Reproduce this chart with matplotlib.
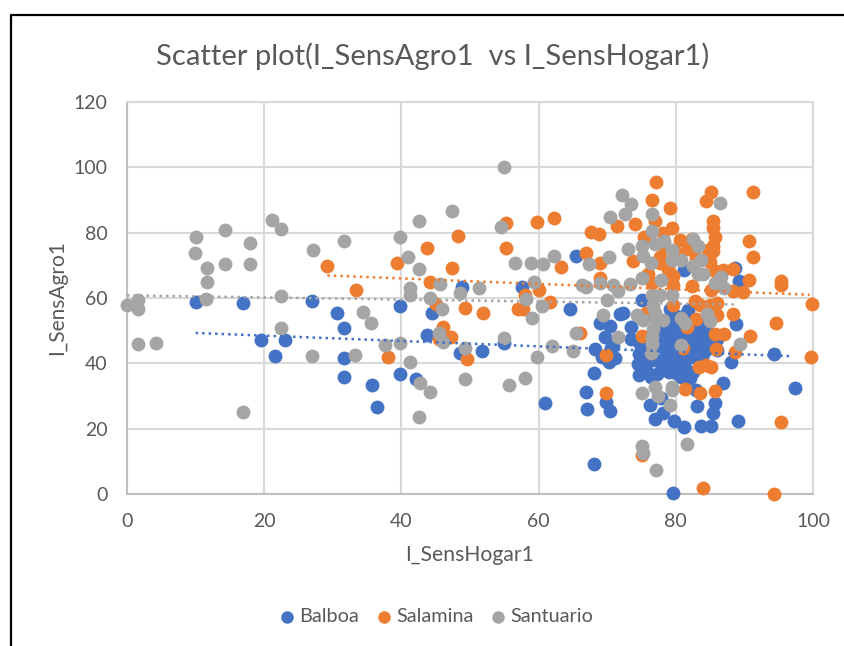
import matplotlib
matplotlib.use("Agg")
import matplotlib.pyplot as plt
from matplotlib.lines import Line2D

plt.rcParams["font.family"] = ["Lato", "DejaVu Sans"]

# points
balboa_x = [10, 16.9, 26.9, 30.6, 31.7, 39.8, 44.4, 48.8, 19.5, 23, 43.7, 21.6, 31.7, 31.7, 35.7, 36.4, 39.8, 42.1,
            48.5, 51.7, 65.5, 57.6, 88.6, 89.2, 81.2, 64.6, 75.1, 71.8, 72.3, 68.9, 70.4, 81.8, 79.1, 88.8, 73.5,
            69.7, 73.5, 83.5, 55, 68.2, 70.9, 69.2, 70.2, 71.2, 70.5, 74.7, 74.5, 75.4, 74.7, 76.4, 68.1, 66.9,
            60.9, 67, 69.8, 70.4, 68.1, 79.6, 97.4, 94.3, 88, 86.9, 85.7, 85.4, 83.1, 83, 89, 85.2, 83.7, 81.2,
            79.7, 78.1, 76.9, 76.2, 77.8, 80.8, 81.3, 82.5,
            77, 78, 79, 80, 81, 82, 83, 84, 85, 77.5, 78.5, 79.5, 80.5, 81.5, 82.5, 83.5, 84.5, 78, 79, 80, 81, 82,
            83, 84, 78.5, 79.5, 80.5, 81.5, 82.5, 83.5, 77, 78.2, 79.3, 80.3, 81.2, 79, 80, 81, 78, 84.7, 86, 76.2,
            75.6, 77.2,
            74.8, 75.5, 76, 76.5, 77.5, 78.5, 79.5, 80.5, 81.5, 82.5, 83.5, 84.5, 85.5, 86, 78, 79, 80, 81, 82, 80,
            81.5, 82.5]
balboa_y = [58.7, 58.6, 59.2, 55.4, 50.7, 57.4, 55.4, 63.3, 47, 47.2, 48.8, 42.2, 41.5, 35.8, 33.5, 26.5, 36.8, 35.1,
            43.3, 43.9, 73, 63.4, 69.2, 65.1, 68.7, 56.7, 59.4, 55, 55.5, 52.5, 51.5, 56.2, 56.5, 52, 51, 48, 47.4,
            52.5, 46.2, 44.5, 45.4, 42, 40.5, 41.5, 44.6, 43, 39.8, 39.2, 36.4, 35.9, 36.9, 31.1, 28, 25.9, 28.2,
            25.5, 9.1, 0.3, 32.6, 43, 40.5, 34, 28, 24.9, 26.8, 31.8, 22.5, 20.9, 20.9, 20.6, 22.5, 24.7, 22.9,
            27.2, 29.3, 35.9, 38.5, 37.4,
            50, 49.5, 50.5, 49, 48, 48.5, 47.5, 46.5, 45.5, 47, 47.5, 47, 46.5, 46, 45.5, 45, 44.5, 45, 45, 44.5, 44,
            43.5, 43, 43, 43, 42.8, 42.5, 42, 42, 41.5, 41, 40.8, 41, 40.5, 40.2, 39.5, 39, 38.8, 38, 49.5, 47.5, 41,
            38, 36.8,
            46, 44, 48, 42, 52, 53, 52, 53, 51, 52, 50, 49, 47, 44, 40, 37.5, 37, 36, 35.5, 54.5, 55, 48]

salamina_x = [29.2, 39.3, 43.8, 48.3, 47.4, 33.4, 44.1, 49.3, 51.9, 45, 46, 47.3, 45.5, 38, 49.6, 77.1, 76.5, 79.2,
              85.2, 84.4, 91.2, 55.2, 59.8, 62.2, 76.9, 74, 71.4, 67.6, 68.8, 79.5, 85.4, 85.4, 85.7, 85.4, 85.4,
              90.7, 91.2, 75.3, 78.2, 80.6, 82.3, 55.2, 66.9, 63.3, 68.9, 73.8, 77.7, 77.7, 83, 84.7, 69, 90.6,
              95.4, 95.4, 88.4, 85.7, 86.9, 79.6, 79.6, 76.5, 82.4, 85.2, 88.3, 89.8, 60, 58, 61.6, 57, 57.7, 99.9,
              79.6, 82.8, 83.5, 85, 86, 86, 88.4, 83, 81.6, 94.6, 85.7, 87, 90.8, 75, 66, 75.7, 69.8, 81, 85.9, 88.6,
              99.7, 83.4, 84.4, 85.2, 69.8, 81.3, 83.5, 85.7, 95.4, 75.1, 83.9, 94.3, 78.4, 80.2, 81.8, 85, 76, 78.8]
salamina_y = [69.9, 70.6, 75.4, 79, 69.2, 62.5, 64.8, 57, 55.3, 58.2, 51, 48.1, 47.3, 41.8, 41.2, 95.5, 90, 87.7,
              92.5, 89.8, 92.5, 82.9, 83.3, 84.6, 83.6, 82.7, 81.9, 80.3, 79.5, 81.4, 83.7, 81.4, 78.8, 75.8, 74.3,
              77.6, 72.4, 78.8, 79.8, 77.8, 78, 75.2, 73.9, 69.4, 70.7, 71.4, 72.7, 70.7, 72.2, 74.8, 66.1, 65.6,
              65.2, 63.9, 68.9, 68.2, 68.7, 66.7, 64.1, 64.6, 63.6, 62.6, 62.1, 61.8, 62.4, 61, 58.9, 56.7, 56.7, 58.3,
              57.8, 59.1, 58, 58, 58.4, 54.8, 55, 53.5, 51, 52.5, 48.9, 48.9, 48.4, 48.4, 49.4, 55.5, 42.6, 44.6, 44.3,
              43.6, 42, 39, 39.5, 38.8, 31, 32, 30.8, 31.6, 22.1, 11.9, 1.7, 0, 75.5, 73.8, 75, 71, 67.5, 69]

santuario_x = [0, 1.6, 1.6, 10, 14.3, 18, 21.1, 22.4, 9.9, 11.7, 14.3, 18, 11.7, 11.5, 22.4, 27.1, 31.7, 39.8, 42.5,
               47.4, 41, 42.5, 45.6, 41.2, 41.2, 44.1, 48.5, 51.3, 45.9, 34.4, 35.5, 22.4, 45.5, 46, 37.6, 39.8, 1.6,
               4.2, 26.9, 33.3, 41.2, 42.7, 44.1, 16.9, 42.5, 49.3, 49.2, 54.9, 54.5, 72.2, 73.5, 70.4, 72.6, 76.5,
               86.5, 76.6, 73.1, 56.5, 58.9, 60.6, 62.2, 70.3, 67.4, 75, 76.9, 78.3, 79.4, 82.5, 83.3, 83.7, 75.2,
               76.4, 79.4, 80.7, 82.5, 83.3, 84, 75.1, 77.9, 86.6, 85.7, 87, 69, 70.9, 71.6, 73.3, 66.3, 66.9, 59.3,
               58.1, 60.5, 59, 70, 69.4, 74.3, 75.2, 76.6, 77.7, 79.4, 76.7, 76.9, 77.1, 78.1, 76.7, 76.6, 76.6, 80.8,
               81.3, 84.5, 85, 65.5, 55, 61.9, 65, 89.4, 80.8, 71.6, 76.4, 59.8, 55.7, 58, 75, 76.9, 77.4, 79.4, 79.5,
               79.1, 75, 75.2, 77.1, 81.6]
santuario_y = [57.8, 59.5, 56.7, 78.7, 80.7, 76.9, 84, 81.2, 73.7, 69.3, 70.3, 70.3, 64.8, 59.8, 60.5, 74.8, 77.5, 78.7,
               83.6, 86.6, 72.6, 69, 64.4, 63, 61, 60, 61.5, 63.2, 56.7, 55.7, 52.4, 50.7, 49.3, 46.5, 45.5, 46.3,
               45.9, 46.3, 42.2, 42.6, 40.5, 34.1, 31.3, 25.2, 23.5, 44.6, 35.1, 100, 81.8, 91.5, 88.8, 84.9, 85.7,
               85.7, 89.2, 80.5, 74.9, 70.7, 70.7, 70.4, 73, 72.7, 70.4, 75.8, 76.5, 77.5, 74.8, 78.1, 76, 71.7, 72.9,
               70.7, 71.7, 71.7, 69.7, 67.2, 67.2, 66.2, 65.4, 66.5, 64.6, 63.1, 64.6, 64.1, 62.1, 64.3, 64.1, 63.3,
               64.9, 59.6, 57.5, 54, 59.3, 54.8, 54.8, 53.2, 61, 61, 60.9, 57.5, 55.5, 53.5, 53.3, 50.5, 48, 45.9, 54,
               52.5, 55, 53, 49.4, 47.7, 45.2, 43.9, 45.8, 45.5, 48.1, 43.1, 42, 33.4, 35.4, 30.8, 32.8, 30, 32.8, 31.8,
               27.2, 14.6, 12.6, 7.5, 15.3]

# trendline ends as seen on the chart
trend_balboa_x, trend_balboa_y = [10, 96.6], [49.3, 42.2]
trend_salamina_x, trend_salamina_y = [29.2, 99.5], [66.9, 61]
trend_santuario_x, trend_santuario_y = [0, 88.8], [60.8, 58]

azul = "#4472c4"
naranja = "#ed7d31"
gris = "#a5a5a5"
texto = "#595959"

fig = plt.figure(figsize=(8.44, 6.46), dpi=100)

# black frame round the chart, only top and left are in the crop
fig.add_artist(Line2D([11 / 844, 11 / 844, 1], [0, 1 - 15 / 646, 1 - 15 / 646], color="black", lw=1.6))

ax = fig.add_axes([127 / 844, 1 - 494 / 646, (813 - 127) / 844, (494 - 102) / 646])

ax.scatter(balboa_x, balboa_y, s=100, color=azul, linewidths=0, clip_on=False, zorder=3)
ax.scatter(salamina_x, salamina_y, s=100, color=naranja, linewidths=0, clip_on=False, zorder=3)
ax.scatter(santuario_x, santuario_y, s=100, color=gris, linewidths=0, clip_on=False, zorder=3)

ax.plot(trend_balboa_x, trend_balboa_y, color=azul, lw=1.8, ls=(0, (1, 1.6)), zorder=4)
ax.plot(trend_salamina_x, trend_salamina_y, color=naranja, lw=1.8, ls=(0, (1, 1.6)), zorder=4)
ax.plot(trend_santuario_x, trend_santuario_y, color=gris, lw=1.8, ls=(0, (1, 1.6)), zorder=4)

ax.set_xlim(0, 100)
ax.set_ylim(0, 120)
ax.set_xticks([0, 20, 40, 60, 80, 100])
ax.set_yticks([0, 20, 40, 60, 80, 100, 120])
ax.grid(True, color="#d9d9d9", lw=1.5)
ax.set_axisbelow(True)
ax.tick_params(length=0, labelsize=14, labelcolor=texto, pad=14)
for side in ax.spines:
    ax.spines[side].set_color("#d9d9d9")
    ax.spines[side].set_linewidth(1.5)
ax.spines["left"].set_color("#bfbfbf")
ax.spines["bottom"].set_color("#bfbfbf")

fig.text(433 / 844, 1 - 56 / 646, "Scatter plot(I_SensAgro1  vs I_SensHogar1)", ha="center", va="center",
         fontsize=21, color=texto)
fig.text(470 / 844, 1 - 555 / 646, "I_SensHogar1", ha="center", va="center", fontsize=15.2, color=texto)
fig.text(57 / 844, 1 - 298 / 646, "I_SensAgro1", ha="center", va="center", rotation=90, fontsize=15, color=texto)

# legend placed by hand, matplotlib's own spacing came out too wide
legend_names = ["Balboa", "Salamina", "Santuario"]
legend_colors = [azul, naranja, gris]
legend_px = [287, 384, 498]
for name, color, px in zip(legend_names, legend_colors, legend_px):
    fig.add_artist(Line2D([px / 844], [1 - 617 / 646], marker="o", ls="", ms=9, color=color, mew=0))
    fig.text((px + 12) / 844, 1 - 617 / 646, name, ha="left", va="center", fontsize=14.3, color=texto)

plt.savefig("out.png", dpi=100)
